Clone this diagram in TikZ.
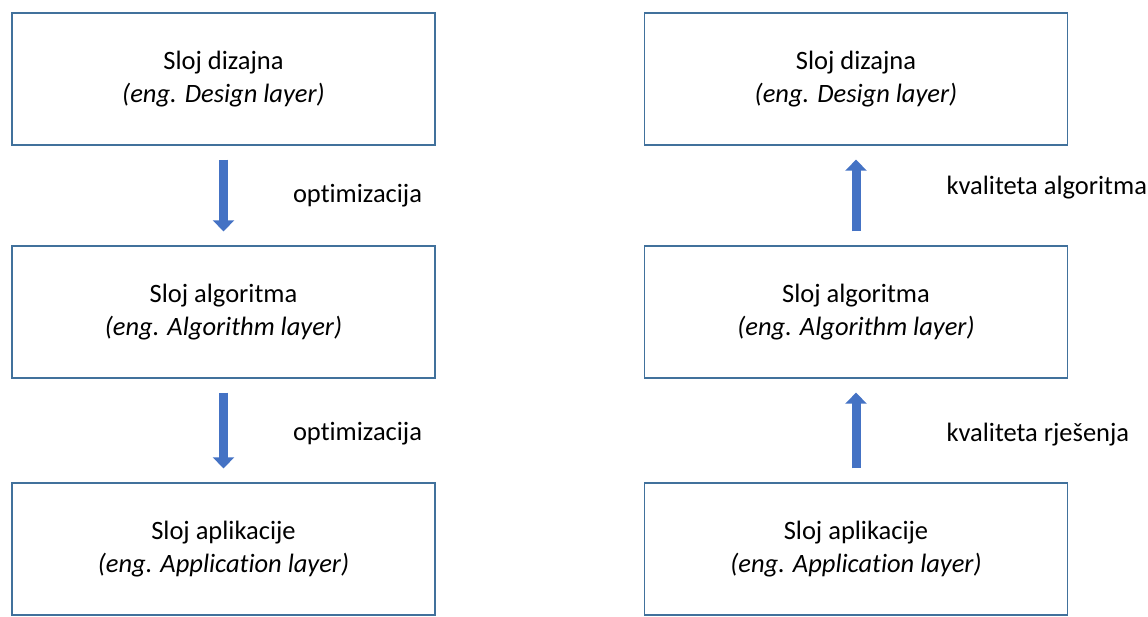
\documentclass[tikz,border=0pt]{standalone}
\usepackage{fontspec}
\setmainfont{Carlito}[Ligatures=NoCommon]
\usetikzlibrary{calc,arrows.meta}
\definecolor{boxline}{HTML}{41719C}
\definecolor{arrowfill}{HTML}{4472C4}
\newcommand*\layerText[2]{#1\\\textit{(eng. #2)}}

\begin{document}
\begin{tikzpicture}[x=1pt,y=-1pt,
    layer/.style={draw=boxline,line width=1.3pt,minimum width=423pt,minimum height=132pt,
        inner sep=0pt,align=center,font=\fontsize{26.5}{32.5}\selectfont},
    flow/.style={draw=arrowfill,line width=9pt,-{Triangle[length=11pt,width=21pt]}},
    lbl/.style={anchor=base west,inner sep=0pt,font=\fontsize{26.5}{32.5}\selectfont}]
    \useasboundingbox (0,0) rectangle (1148,616);
    % left column
    \node[layer] (dizL) at (223.5,79) {\layerText{Sloj dizajna}{Design layer}};
    \node[layer] (algL) at (223.5,312) {\layerText{Sloj algoritma}{Algorithm layer}};
    \node[layer] (aplL) at (223.5,549) {\layerText{Sloj aplikacije}{Application layer}};
    % right column
    \node[layer] (dizR) at (856,79) {\layerText{Sloj dizajna}{Design layer}};
    \node[layer] (algR) at (856,312) {\layerText{Sloj algoritma}{Algorithm layer}};
    \node[layer] (aplR) at (856,549) {\layerText{Sloj aplikacije}{Application layer}};
    \draw[flow] ($(dizL.south)+(0,14)$) -- ($(algL.north)-(0,14)$)
        node[lbl,midway,xshift=65pt,yshift=-7pt] {optimizacija};
    \draw[flow] ($(algL.south)+(0,14)$) -- ($(aplL.north)-(0,14)$)
        node[lbl,midway,xshift=65pt,yshift=-10pt] {optimizacija};
    \draw[flow] ($(algR.north)-(0,14)$) -- ($(dizR.south)+(0,14)$)
        node[lbl,midway,xshift=86pt,yshift=1.5pt] {kvaliteta algoritma};
    \draw[flow] ($(aplR.north)-(0,14)$) -- ($(algR.south)+(0,14)$)
        node[lbl,midway,xshift=86pt,yshift=-11pt] {kvaliteta rješenja};
\end{tikzpicture}
\end{document}
